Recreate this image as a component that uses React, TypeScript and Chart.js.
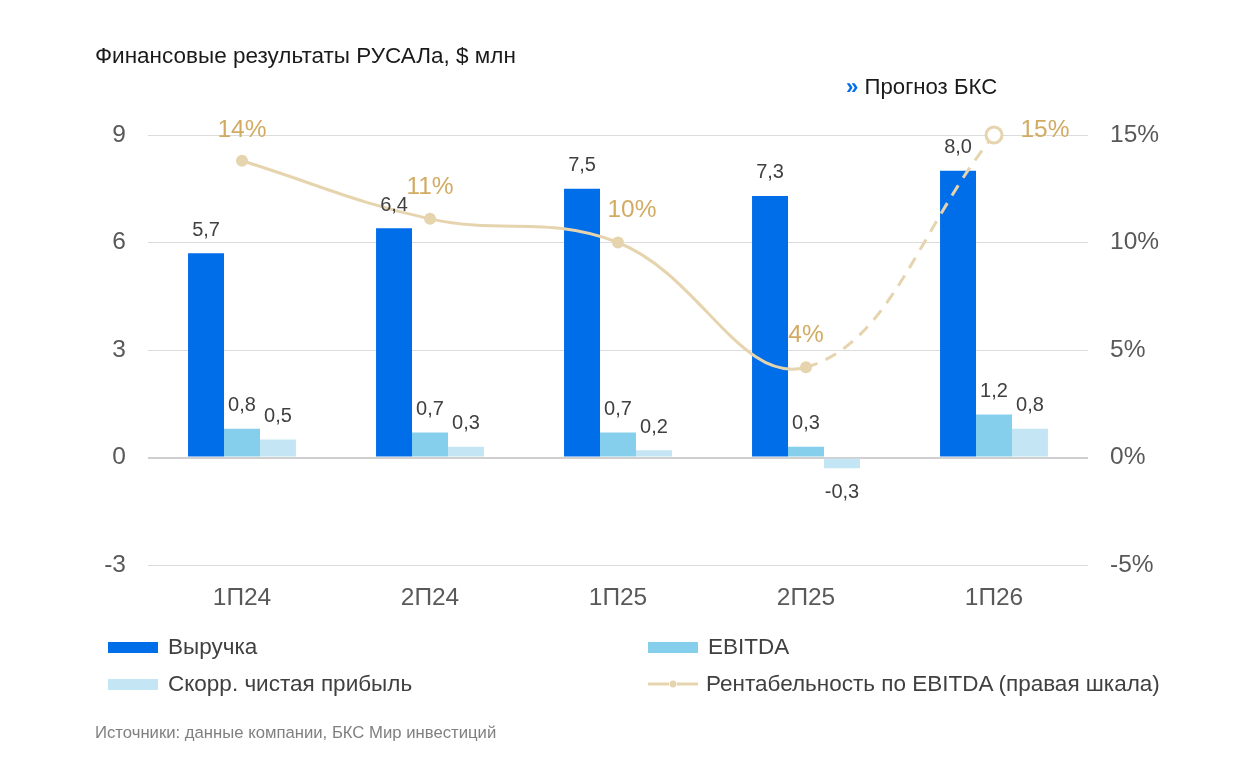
import { useRef, useEffect } from 'react'
import Chart from 'chart.js/auto'

const periods = ['1П24', '2П24', '1П25', '2П25', '1П26']
const revenue = [5.7, 6.4, 7.5, 7.3, 8.0]
const ebitda = [0.8, 0.7, 0.7, 0.3, 1.2]
const netIncome = [0.5, 0.3, 0.2, -0.3, 0.8]
const margin = [13.8, 11.1, 10.0, 4.2, 15.0]
const marginLabels = ['14%', '11%', '10%', '4%', '15%']
const leftTicks = [-3, 0, 3, 6, 9]
const rightTicks = [-5, 0, 5, 10, 15]

// label nudges for the margin line, in px
const marginLabelShift = [
  [0, -31],
  [0, -32],
  [14, -32],
  [0, -32],
  [51, -5],
]

const FONT = '"Liberation Sans", Arial, sans-serif'
const BLUE = '#006de9'
const SKY = '#86cfec'
const PALE = '#c4e6f4'
const GOLD_LINE = '#e6d4ae'
const GOLD_TEXT = '#d2ab63'
const TEXT = '#404040'
const AXIS = '#595959'

const fmt = (v: number) => v.toFixed(1).replace('.', ',')

const valueLabels = {
  id: 'valueLabels',
  afterDatasetsDraw(chart: Chart) {
    const ctx = chart.ctx
    ctx.save()
    ctx.textAlign = 'center'
    ctx.textBaseline = 'middle'
    chart.data.datasets.forEach((ds, i) => {
      const meta = chart.getDatasetMeta(i)
      if (ds.type === 'line') {
        ctx.font = `24.5px ${FONT}`
        ctx.fillStyle = GOLD_TEXT
        meta.data.forEach((pt: any, j: number) => {
          const [dx, dy] = marginLabelShift[j]
          ctx.fillText(marginLabels[j], pt.x + dx, pt.y + dy)
        })
      } else {
        ctx.font = `20px ${FONT}`
        ctx.fillStyle = TEXT
        meta.data.forEach((bar: any, j: number) => {
          const v = (ds.data as number[])[j]
          const y = v >= 0 ? bar.y - 23 : bar.y + 24
          ctx.fillText(fmt(v), bar.x, y)
        })
      }
    })
    ctx.restore()
  },
}

function BarChart() {
  const canvasRef = useRef<HTMLCanvasElement>(null)
  const chartRef = useRef<Chart | null>(null)

  useEffect(() => {
    if (!canvasRef.current) return
    Chart.getChart(canvasRef.current!)?.destroy(); if (chartRef.current) chartRef.current.destroy()

    chartRef.current = new Chart(canvasRef.current, {
      type: 'bar',
      data: {
        labels: periods,
        datasets: [
          {
            type: 'line',
            data: margin,
            yAxisID: 'y1',
            order: 0,
            clip: false,
            borderColor: GOLD_LINE,
            borderWidth: 3,
            tension: 0.4,
            pointRadius: [6, 6, 6, 6, 8],
            pointBorderWidth: [0, 0, 0, 0, 3],
            pointBackgroundColor: [GOLD_LINE, GOLD_LINE, GOLD_LINE, GOLD_LINE, '#ffffff'],
            pointBorderColor: GOLD_LINE,
            segment: {
              borderDash: (c: any) => (c.p1DataIndex === 4 ? [12, 9] : undefined),
            },
          } as any,
          { data: revenue, backgroundColor: BLUE, order: 1 },
          { data: ebitda, backgroundColor: SKY, order: 1 },
          { data: netIncome, backgroundColor: PALE, order: 1 },
        ],
      },
      options: {
        responsive: true,
        maintainAspectRatio: false,
        animation: false,
        layout: { padding: { top: 135, left: 0, right: 0, bottom: 0 } },
        datasets: { bar: { categoryPercentage: 0.574, barPercentage: 1 } },
        plugins: {
          legend: { display: false },
          tooltip: { enabled: false },
        },
        scales: {
          x: {
            grid: { display: false, drawTicks: false },
            border: { display: false },
            ticks: { font: { size: 24.5, family: FONT }, color: AXIS, padding: 19 },
            afterFit: (s: any) => { s.height = 211 },
          },
          y: {
            position: 'left',
            min: -3,
            max: 9,
            afterBuildTicks: (s: any) => { s.ticks = leftTicks.map((value) => ({ value })) },
            grid: {
              drawTicks: false,
              color: (c: any) => (c.tick && c.tick.value === 0 ? '#cfcfcf' : '#dcdcdc'),
              lineWidth: (c: any) => (c.tick && c.tick.value === 0 ? 2 : 1),
            },
            border: { display: false },
            ticks: { font: { size: 24.5, family: FONT }, color: AXIS, padding: 22 },
            afterFit: (s: any) => { s.width = 148 },
          },
          y1: {
            position: 'right',
            min: -5,
            max: 15,
            afterBuildTicks: (s: any) => { s.ticks = rightTicks.map((value) => ({ value })) },
            grid: { display: false, drawTicks: false },
            border: { display: false },
            ticks: {
              font: { size: 24.5, family: FONT },
              color: AXIS,
              padding: 22,
              callback: (v: any) => `${v}%`,
            },
            afterFit: (s: any) => { s.width = 166 },
          },
        },
      },
      plugins: [valueLabels],
    })

    return () => { chartRef.current?.destroy(); chartRef.current = null }
  }, [])

  return (
    <div style={{ position: 'absolute', left: 0, top: 0, width: 1254, height: 776 }}>
      <canvas ref={canvasRef} />
    </div>
  )
}

function Swatch({ color }: { color: string }) {
  return <span style={{ display: 'inline-block', width: 50, height: 11, background: color, marginRight: 10 }} />
}

function LineSwatch() {
  return (
    <svg width={50} height={12} style={{ marginRight: 8 }}>
      <line x1={0} y1={6} x2={21} y2={6} stroke={GOLD_LINE} strokeWidth={3} />
      <line x1={29} y1={6} x2={50} y2={6} stroke={GOLD_LINE} strokeWidth={3} />
      <circle cx={25} cy={6} r={3.5} fill={GOLD_LINE} />
    </svg>
  )
}

const legendRow: React.CSSProperties = {
  position: 'absolute',
  display: 'flex',
  alignItems: 'center',
  fontSize: 22.5,
  lineHeight: '26px',
  color: TEXT,
}

export default function App() {
  return (
    <div style={{ position: 'absolute', left: 0, top: 0, width: 1254, height: 776, background: '#fff', fontFamily: FONT, overflow: 'hidden' }}>
      <BarChart />
      <div style={{ position: 'absolute', left: 95, top: 43, fontSize: 22.5, lineHeight: '26px', color: '#1a1a1a' }}>
        Финансовые результаты РУСАЛа, $ млн
      </div>
      <div style={{ position: 'absolute', left: 846, top: 74, fontSize: 22.2, lineHeight: '26px', color: '#1a1a1a' }}>
        <span style={{ color: BLUE, fontWeight: 'bold' }}>»</span> Прогноз БКС
      </div>
      <div style={{ ...legendRow, left: 108, top: 634 }}><Swatch color={BLUE} />Выручка</div>
      <div style={{ ...legendRow, left: 648, top: 634 }}><Swatch color={SKY} />EBITDA</div>
      <div style={{ ...legendRow, left: 108, top: 671 }}><Swatch color={PALE} />Скорр. чистая прибыль</div>
      <div style={{ ...legendRow, left: 648, top: 671 }}><LineSwatch />Рентабельность по EBITDA (правая шкала)</div>
      <div style={{ position: 'absolute', left: 95, top: 723, fontSize: 16.7, lineHeight: '20px', color: '#808080' }}>
        Источники: данные компании, БКС Мир инвестиций
      </div>
    </div>
  )
}
